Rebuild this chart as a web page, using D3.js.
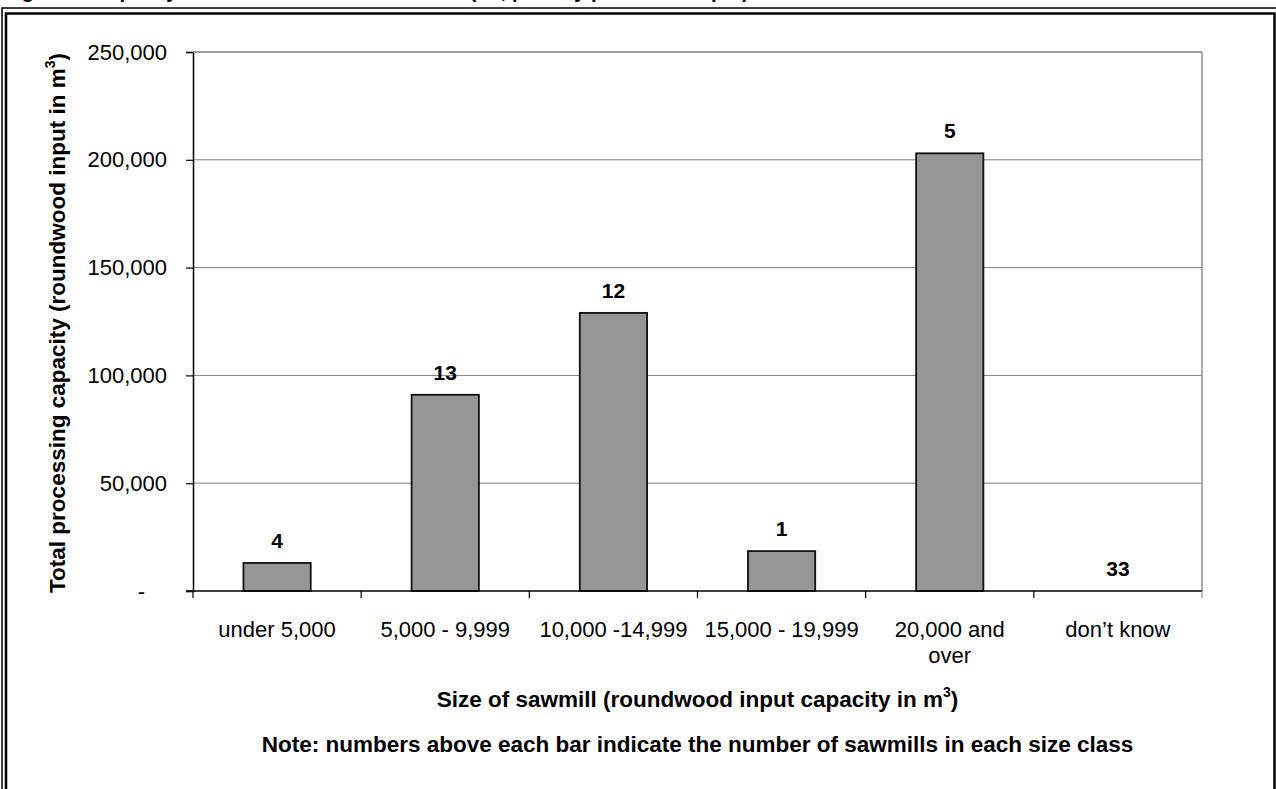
<!DOCTYPE html>
<html>
<head>
<meta charset="utf-8">
<script src="https://cdn.jsdelivr.net/npm/d3@7"></script>
<style>
  html, body { margin: 0; padding: 0; background: #fff; }
  svg { display: block; font-family: "Liberation Sans", Arial, sans-serif; }
</style>
</head>
<body>
<script>
// data
const categories = ['under 5,000', '5,000 - 9,999', '10,000 -14,999', '15,000 - 19,999', '20,000 and\nover', 'don\u2019t know']
const capacity = [13000, 91000, 129000, 18500, 203000, 0]
const millCounts = [4, 13, 12, 1, 5, 33]
const yTicks = [0, 50000, 100000, 150000, 200000, 250000]

const W = 1276, H = 789
const plot = { left: 193, right: 1202, top: 52, bottom: 591 }

const svg = d3.select('body').append('svg')
  .attr('width', W)
  .attr('height', H)

// figure caption, mostly above the page edge
svg.append('text')
  .attr('x', 4)
  .attr('y', -2)
  .style('font-weight', 'bold')
  .style('font-size', '20px')
  .text('Figure 5: Capacity of sawmills in each size class (m\u00b3, primary processor input)')

// double frame
svg.append('path')
  .attr('d', `M2,${H} V8 H${W}`)
  .attr('fill', 'none')
  .attr('stroke', '#000')
  .attr('stroke-width', 1.5)
svg.append('rect')
  .attr('x', 6).attr('y', 13.5)
  .attr('width', 1268.5).attr('height', H)
  .attr('fill', 'none')
  .attr('stroke', '#000')
  .attr('stroke-width', 2.5)

const x = d3.scaleBand()
  .domain(categories)
  .range([plot.left, plot.right])
  .paddingInner(0.6)
  .paddingOuter(0.3)

const xEdge = d3.scaleLinear()
  .domain([0, categories.length])
  .range([plot.left, plot.right])

const y = d3.scaleLinear()
  .domain([0, 250000])
  .range([plot.bottom, plot.top])

// gridlines
svg.append('g')
  .selectAll('line')
  .data(yTicks.slice(1))
  .join('line')
  .attr('x1', plot.left).attr('x2', plot.right)
  .attr('y1', d => y(d)).attr('y2', d => y(d))
  .attr('stroke', '#808080')
  .attr('stroke-width', 1)

// plot area border (right side)
svg.append('line')
  .attr('x1', plot.right).attr('x2', plot.right)
  .attr('y1', plot.top).attr('y2', plot.bottom)
  .attr('stroke', '#909090')
  .attr('stroke-width', 1.5)

// bars
svg.append('g')
  .selectAll('rect')
  .data(capacity)
  .join('rect')
  .attr('x', (d, i) => x(categories[i]))
  .attr('y', d => y(d))
  .attr('width', x.bandwidth())
  .attr('height', d => y(0) - y(d))
  .attr('fill', '#969696')
  .attr('stroke', '#111')
  .attr('stroke-width', 1.8)

// counts above bars
svg.append('g')
  .selectAll('text')
  .data(millCounts)
  .join('text')
  .attr('x', (d, i) => x(categories[i]) + x.bandwidth() / 2)
  .attr('y', (d, i) => y(capacity[i]) - 15)
  .attr('text-anchor', 'middle')
  .style('font-weight', 'bold')
  .style('font-size', '21px')
  .text(d => d)

// y axis
const yAxis = svg.append('g')
  .attr('transform', `translate(${plot.left},0)`)
  .call(d3.axisLeft(y)
    .tickValues(yTicks)
    .tickSize(7)
    .tickPadding(19)
    .tickFormat(d => d === 0 ? '-' : d3.format(',')(d)))
yAxis.select('.domain').attr('stroke', '#000').attr('stroke-width', 1.5)
yAxis.selectAll('.tick line').attr('stroke', '#000').attr('stroke-width', 1.2)
yAxis.selectAll('.tick text')
  .style('font-size', '22px')
  .attr('fill', '#000')
yAxis.selectAll('.tick text').filter(d => d === 0).attr('dx', -22)

// top border of plot area
svg.append('line')
  .attr('x1', plot.left).attr('x2', plot.right)
  .attr('y1', plot.top).attr('y2', plot.top)
  .attr('stroke', '#909090')
  .attr('stroke-width', 1.5)

// x axis line and boundary ticks
svg.append('line')
  .attr('x1', plot.left - 7).attr('x2', plot.right)
  .attr('y1', plot.bottom).attr('y2', plot.bottom)
  .attr('stroke', '#000')
  .attr('stroke-width', 1.5)
svg.append('g')
  .selectAll('line')
  .data(d3.range(categories.length + 1))
  .join('line')
  .attr('x1', d => xEdge(d)).attr('x2', d => xEdge(d))
  .attr('y1', plot.bottom).attr('y2', plot.bottom + 7)
  .attr('stroke', (d, i) => i === categories.length ? '#909090' : '#000')
  .attr('stroke-width', 1.2)

// category labels
svg.append('g')
  .selectAll('text')
  .data(categories)
  .join('text')
  .attr('x', d => x(d) + x.bandwidth() / 2)
  .attr('y', 637)
  .attr('text-anchor', 'middle')
  .style('font-size', '22px')
  .selectAll('tspan')
  .data(d => d.split('\n'))
  .join('tspan')
  .attr('x', function () { return this.parentNode.getAttribute('x') })
  .attr('dy', (d, i) => i ? 26 : 0)
  .text(d => d)

// axis titles
const xTitle = svg.append('text')
  .attr('x', (plot.left + plot.right) / 2)
  .attr('y', 707)
  .attr('text-anchor', 'middle')
  .style('font-weight', 'bold')
  .style('font-size', '22.5px')
xTitle.append('tspan').text('Size of sawmill (roundwood input capacity in m')
xTitle.append('tspan').attr('dy', -10).style('font-size', '14px').text('3')
xTitle.append('tspan').attr('dy', 10).text(')')

const yTitle = svg.append('text')
  .attr('transform', `translate(65,323) rotate(-90)`)
  .attr('text-anchor', 'middle')
  .style('font-weight', 'bold')
  .style('font-size', '22.5px')
yTitle.append('tspan').text('Total processing capacity (roundwood input in m')
yTitle.append('tspan').attr('dy', -10).style('font-size', '14px').text('3')
yTitle.append('tspan').attr('dy', 10).text(')')

svg.append('text')
  .attr('x', (plot.left + plot.right) / 2)
  .attr('y', 752)
  .attr('text-anchor', 'middle')
  .style('font-weight', 'bold')
  .style('font-size', '22.5px')
  .text('Note: numbers above each bar indicate the number of sawmills in each size class')
</script>
</body>
</html>
